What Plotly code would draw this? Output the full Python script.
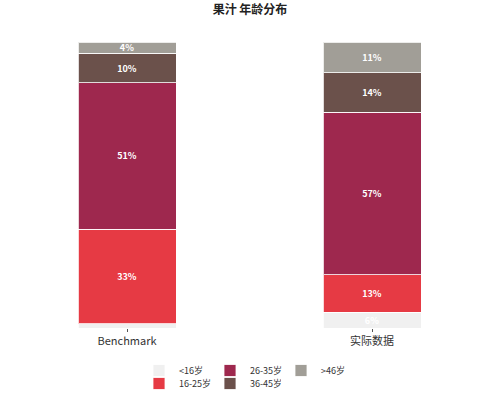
import plotly.graph_objects as go

categories = ["Benchmark", "实际数据"]
age_groups = ["<16岁", "16-25岁", "26-35岁", "36-45岁", ">46岁"]
values = {
    "<16岁": [1.5, 5.5],
    "16-25岁": [33.0, 13.2],
    "26-35岁": [51.3, 56.7],
    "36-45岁": [10.2, 13.9],
    ">46岁": [4.0, 10.7],
}
colors = {
    "<16岁": "#f0f0f0",
    "16-25岁": "#e63a44",
    "26-35岁": "#9e284e",
    "36-45岁": "#6b514b",
    ">46岁": "#a19e97",
}
legend_of = {"<16岁": "legend", "26-35岁": "legend", ">46岁": "legend",
             "16-25岁": "legend2", "36-45岁": "legend2"}

fig = go.Figure()
for g in age_groups:
    vals = values[g]
    texts = [f"{round(v):.0f}%" if v >= 3 else "" for v in vals]
    fig.add_trace(go.Bar(
        x=categories, y=vals, name=g,
        marker=dict(color=colors[g], line=dict(color="rgba(255,255,255,0.8)", width=1)),
        text=texts, textposition="inside", insidetextanchor="middle",
        constraintext="none",
        textfont=dict(color="white", size=9, family="Noto Sans CJK SC"),
        texttemplate="<b>%{text}</b>",
        legend=legend_of[g],
        hoverinfo="skip",
    ))

W, H, L, R = 500, 398, 5, 5

leg_common = dict(orientation="h", xanchor="left", yanchor="top", yref="container",
                  xref="container", entrywidth=26,
                  font=dict(size=9, color="#333333"),
                  bgcolor="rgba(0,0,0,0)", traceorder="normal")

fig.update_layout(
    barmode="stack",
    bargap=0.6,
    width=W, height=H,
    margin=dict(l=L, r=R, t=42, b=70, autoexpand=False),
    paper_bgcolor="white", plot_bgcolor="white",
    font=dict(family="Noto Sans CJK SC", color="#333333", size=11),
    title=dict(text="<b>果汁 年龄分布</b>", x=0.5, xanchor="center", y=1 - 10 / H, yanchor="middle",
               font=dict(size=12, color="#222222")),
    showlegend=True,
    legend=dict(x=139 / W, y=1 - 356 / H, **leg_common),
    legend2=dict(x=139 / W, y=1 - 369 / H, **leg_common),
)
fig.update_xaxes(showgrid=False, showline=False, ticks="outside", ticklen=3, tickcolor="#555555",
                 tickfont=dict(size=11, color="#333333"), range=[-0.498, 1.502])
fig.update_yaxes(visible=False, range=[0, 100])

fig.write_html("out.html", config={"displayModeBar": False},
               post_script="document.body.style.margin='0';document.body.style.padding='0';")
